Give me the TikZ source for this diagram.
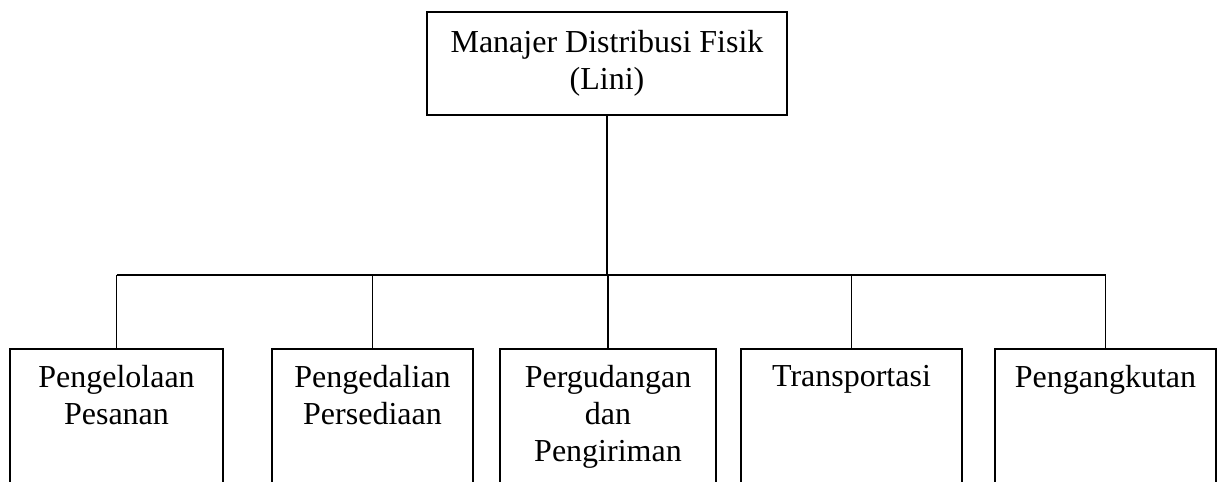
\documentclass[tikz,border=0pt]{standalone}
\usepackage{fontspec}
\setmainfont{Liberation Serif}
\usetikzlibrary{positioning}

\begin{document}
\begin{tikzpicture}[x=0.75pt,y=0.75pt,yscale=-1,xscale=1,
  box/.style={draw,line width=1.4pt,inner sep=0pt},
  subbox/.style={box,anchor=north,minimum height=129pt},
  lbl/.style={inner sep=0pt,align=center,font=\fontsize{24}{27.75}\selectfont},
  link/.style={line width=1.4pt}]
\useasboundingbox (0,0) rectangle (1225,482);
\clip (0,0) rectangle (1225,482);

% Top box
\node [box,lbl,minimum width=270pt,minimum height=77.25pt] (mgr) at (607,63.5) {Manajer Distribusi Fisik\\(Lini)};

% Bottom boxes
\node [subbox,minimum width=159.75pt] (b1) at (116.5,348) {};
\node [subbox,minimum width=150.75pt] (b2) at (372.5,348) {};
\node [subbox,minimum width=162pt] (b3) at (608,348) {};
\node [subbox,minimum width=165.75pt] (b4) at (851.5,348) {};
\node [subbox,minimum width=165.75pt] (b5) at (1105.5,348) {};

% Text Node
\node [lbl,anchor=north,below=12.5pt of b1.north] (t1) {Pengelolaan\\Pesanan};
\node [lbl,anchor=north,below=12.5pt of b2.north] (t2) {Pengedalian\\Persediaan};
\node [lbl,anchor=north,below=12.5pt of b3.north] (t3) {Pergudangan\\dan\\Pengiriman};
\node [lbl,anchor=north,below=12.5pt of b4.north] (t4) {Transportasi};
\node [lbl,anchor=north,below=12.5pt of b5.north] (t5) {Pengangkutan};

%Straight Lines
\coordinate (bus) at (608,275);
\draw [link] (mgr.south) -- (mgr.south |- bus);
\draw [link] (bus -| b1.north) -- (bus -| b5.north);
\foreach \b in {b1,b2,b3,b4,b5}
  \draw [link] (bus -| \b.north) -- (\b.north);

\end{tikzpicture}
\end{document}
